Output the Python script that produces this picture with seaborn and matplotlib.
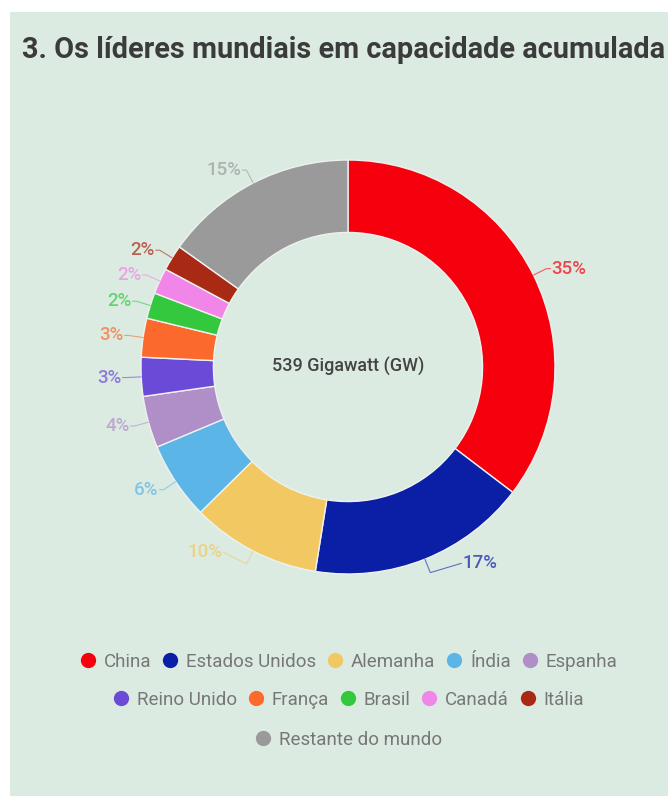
import numpy as np
import matplotlib
matplotlib.use("Agg")
import matplotlib.pyplot as plt
from matplotlib.lines import Line2D
from matplotlib.patches import Rectangle
import seaborn as sns

# Capacidade acumulada por país (% do total de 539 GW)
paises = ["China", "Estados Unidos", "Alemanha", "Índia", "Espanha",
          "Reino Unido", "França", "Brasil", "Canadá", "Itália",
          "Restante do mundo"]
percentuais = [35, 17, 10, 6, 4, 3, 3, 2, 2, 2, 15]
cores_hex = ["#f5000c", "#0b1fa6", "#f2c862", "#5bb5e6", "#b08ec8",
             "#6a4bd8", "#fb6a2c", "#34c83e", "#f285e8", "#a82a14",
             "#9a9a9a"]
total_gw = "539 Gigawatt (GW)"
titulo = "3. Os líderes mundiais em capacidade acumulada"
linhas_legenda = [paises[0:5], paises[5:10], paises[10:]]

sns.set_theme(style="white")
plt.rcParams["font.family"] = ["Roboto", "DejaVu Sans"]
cores = sns.color_palette(cores_hex)

W, H = 668, 796
fig = plt.figure(figsize=(W / 100, H / 100), dpi=100, facecolor="white")

fundo = "#dcebe2"
fig.patches.append(Rectangle((10 / W, 0), 1 - 10 / W, 1 - 12 / H,
                             transform=fig.transFigure, facecolor=fundo,
                             edgecolor="none", zorder=-5))

fig.text(22 / W, 1 - 50 / H, titulo, ha="left", va="center",
         fontsize=20.8, fontweight="bold", color="#3b3b3b")

# Donut
cx, cy, r_px = 348, 367, 207
lim = 1.45
size = 2 * lim * r_px
ax = fig.add_axes([(cx - size / 2) / W, (H - cy - size / 2) / H, size / W, size / H])
ax.set_facecolor("none")
wedges, _ = ax.pie(percentuais, colors=cores, startangle=90, counterclock=False,
                   wedgeprops=dict(width=0.35, edgecolor="#eef2ee", linewidth=1.0))
ax.set_xlim(-lim, lim)
ax.set_ylim(-lim, lim)
ax.set_aspect("equal")
ax.axis("off")

ax.text(0, 0, total_gw, ha="center", va="center", fontsize=13,
        color="#444444", fontweight="medium")

# Rótulos percentuais com linhas de chamada; alguns afastados para não encostar no anel
afastamento = {"Estados Unidos": (0.13, 0.045), "Alemanha": (-0.09, 0.055)}
for w, nome, p, c in zip(wedges, paises, percentuais, cores):
    ang = np.deg2rad((w.theta1 + w.theta2) / 2)
    ux, uy = np.cos(ang), np.sin(ang)
    x0, y0 = ux * 1.0, uy * 1.0
    x1, y1 = ux * 1.07, uy * 1.07
    lado = 1 if ux >= 0 else -1
    dx, dy = afastamento.get(nome, (0.0, 0.0))
    xt, yt = x1 + dx, y1 + dy
    ax.plot([x0, x1, xt + lado * 0.02], [y0, y1, yt], color=c, alpha=0.6,
            lw=0.8, solid_capstyle="round")
    ax.text(xt + lado * 0.025, yt, f"{p}%", ha="left" if lado > 0 else "right",
            va="center", fontsize=13.5, fontweight="medium", color=c, alpha=0.7)

# Legenda em três linhas centradas
ys = [662, 700, 740]
for linha, yy in zip(linhas_legenda, ys):
    handles = [Line2D([], [], marker="o", linestyle="none", markersize=11,
                      markerfacecolor=cores[paises.index(n)],
                      markeredgecolor="none") for n in linha]
    fig.legend(handles, linha, loc="center", bbox_to_anchor=(cx / W, 1 - yy / H),
               ncol=len(linha), frameon=False, fontsize=13.5,
               handletextpad=0.35, columnspacing=0.5, handlelength=1.0,
               labelcolor="#777777")

fig.savefig("out.png", dpi=100, facecolor=fig.get_facecolor())
